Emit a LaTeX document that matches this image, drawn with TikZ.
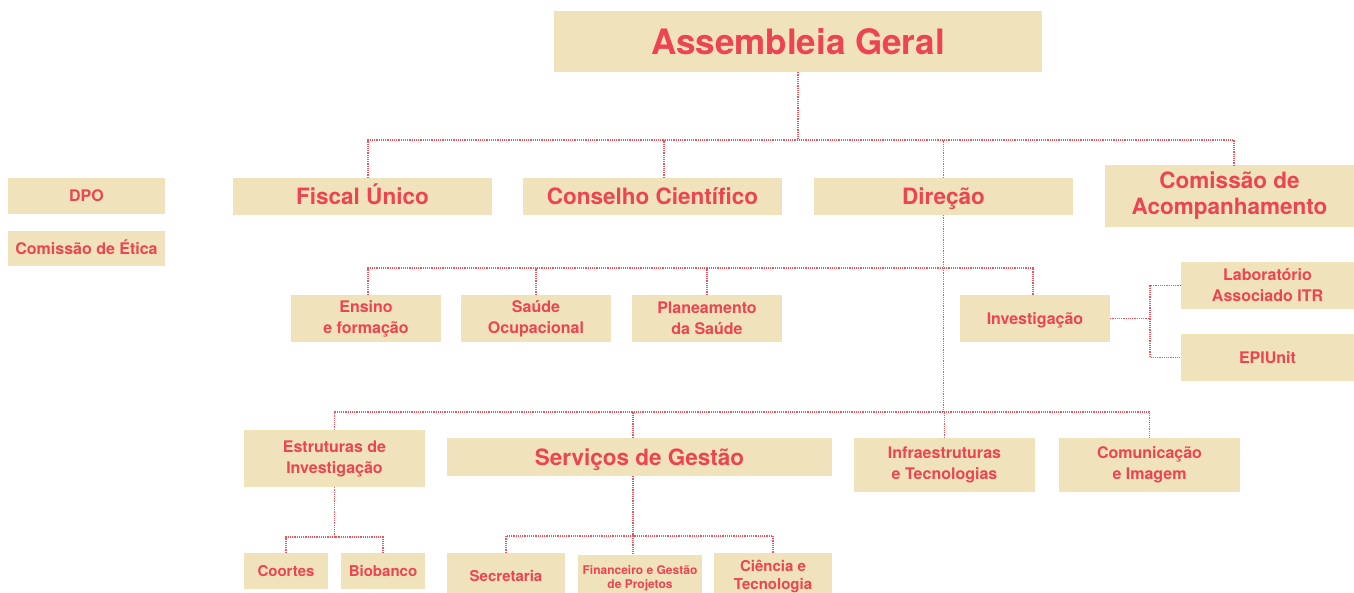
\documentclass[tikz,border=0pt]{standalone}
\usepackage{fontspec}
\setmainfont{TeX Gyre Heros}
\usepackage{tikz}
\usetikzlibrary{positioning}
\usepackage{xcolor}
\definecolor{boxfill}{HTML}{F0E3BB}
\definecolor{txtred}{HTML}{EC4450}
\definecolor{linkred}{HTML}{EC5560}

\begin{document}
\begin{tikzpicture}[x=1pt, y=-1pt,
  box/.style={fill=boxfill, text=txtred, align=center, inner sep=0pt, font=\bfseries},
  one/.style={text height=#1, text depth=0pt},
  big/.style={font=\bfseries\fontsize{35}{40}\selectfont},
  mid/.style={font=\bfseries\fontsize{22.5}{26}\selectfont},
  sml/.style={font=\bfseries\fontsize{16}{21}\selectfont},
  tny/.style={font=\bfseries\fontsize{12}{14}\selectfont},
  link/.style={draw=linkred, line width=1.2pt, densely dotted}]
  \clip (0,0) rectangle (1354,593);
  \fill[white] (0,0) rectangle (1354,593);

  % top levels
  \node (ag) [box, big, one=25.2pt, minimum width=488pt, minimum height=61pt] at (798,41.5) {Assembleia Geral};
  \node (dpo) [box, sml, one=11.5pt, minimum width=157pt, minimum height=36pt] at (86.5,196) {DPO};
  \node (ce) [box, sml, one=11.5pt, minimum width=157pt, minimum height=35pt] at (86.5,248.5) {Comissão de Ética};
  \node (fu) [box, mid, one=16.2pt, minimum width=259pt, minimum height=37pt] at (362.5,196.5) {Fiscal Único};
  \node (cc) [box, mid, one=16.2pt, minimum width=259pt, minimum height=37pt] at (652.5,196.5) {Conselho Científico};
  \node (dir) [box, mid, one=16.2pt, minimum width=259pt, minimum height=37pt] at (943.5,196.5) {Direção};
  \node (ca) [box, mid, minimum width=249pt, minimum height=62pt] at (1229.5,196) {Comissão de\\Acompanhamento};

  % second level
  \node (en) [box, sml, minimum width=150pt, minimum height=47pt] at (366,318.5) {Ensino\\e formação};
  \node (so) [box, sml, minimum width=150pt, minimum height=47pt] at (536,318.5) {Saúde\\Ocupacional};
  \node (ps) [box, sml, minimum width=150pt, minimum height=47pt] at (707,318.5) {Planeamento\\da Saúde};
  \node (inv) [box, sml, one=11.5pt, minimum width=150pt, minimum height=47pt] at (1035,318.5) {Investigação};
  \node (lab) [box, sml, minimum width=173pt, minimum height=47pt] at (1267.5,285.5) {Laboratório\\Associado ITR};
  \node (epi) [box, sml, one=11.5pt, minimum width=173pt, minimum height=47pt] at (1267.5,357.5) {EPIUnit};

  % third level
  \node (ei) [box, sml, minimum width=181pt, minimum height=57pt] at (334.5,458.5) {Estruturas de\\Investigação};
  \node (sg) [box, mid, one=16.2pt, minimum width=385pt, minimum height=38pt] at (639.5,457) {Serviços de Gestão};
  \node (it) [box, sml, minimum width=181pt, minimum height=54pt] at (944.5,465) {Infraestruturas\\e Tecnologias};
  \node (ci) [box, sml, minimum width=181pt, minimum height=54pt] at (1149.5,465) {Comunicação\\e Imagem};

  % bottom
  \node (coo) [box, one=10.8pt, font=\bfseries\fontsize{15}{18}\selectfont, minimum width=84pt, minimum height=36pt] at (286,571) {Coortes};
  \node (bio) [box, one=10.8pt, font=\bfseries\fontsize{15}{18}\selectfont, minimum width=84pt, minimum height=36pt] at (383,571) {Biobanco};
  \node (sec) [box, one=10.8pt, font=\bfseries\fontsize{15}{18}\selectfont, minimum width=118pt, minimum height=47pt] at (506,576.5) {Secretaria};
  \node (fin) [box, tny, minimum width=124pt, minimum height=47pt] at (640,578) {Financeiro e Gestão\\de Projetos};
  \node (cit) [box, font=\bfseries\fontsize{15}{18}\selectfont, minimum width=118pt, minimum height=47pt] at (773,576.5) {Ciência e\\Tecnologia};

  % connectors
  \coordinate (b1) at (798,140);
  \coordinate (b2) at (943.5,268);
  \coordinate (b3) at (943.5,412);
  \coordinate (b4) at (1150,318.5);
  \coordinate (b5) at (334.5,537);
  \coordinate (b6) at (633,536);

  \draw[link] (ag.south) -- (b1);
  \draw[link] ([xshift=5.5pt]fu.north) |- (b1) -| ([xshift=4.5pt]ca.north);
  \draw[link] ([xshift=11.5pt]cc.north) -- ([xshift=11.5pt]cc.north |- b1);
  \draw[link] (dir.north) -- (dir.north |- b1);

  \draw[link] (dir.south) -- (b2) -- (b3);
  \draw[link] ([xshift=2pt]en.north) |- (b2) -| ([xshift=-2pt]inv.north);
  \draw[link] (so.north) -- (so.north |- b2);
  \draw[link] (ps.north) -- (ps.north |- b2);

  \draw[link] (inv.east) -- (b4);
  \draw[link] (lab.west) -| (b4) |- (epi.west);

  \draw[link] (ei.north) |- (b3) -| (ci.north);
  \draw[link] ([xshift=-6.5pt]sg.north) -- ([xshift=-6.5pt]sg.north |- b3);
  \draw[link] (it.north) -- (it.north |- b3);

  \draw[link] (ei.south) -- (b5);
  \draw[link] (coo.north) |- (b5) -| (bio.north);

  \draw[link] ([xshift=-6.5pt]sg.south) -- (b6);
  \draw[link] (sec.north) |- (b6) -| (cit.north);
  \draw[link] ([xshift=-7pt]fin.north) -- (b6);
\end{tikzpicture}
\end{document}
